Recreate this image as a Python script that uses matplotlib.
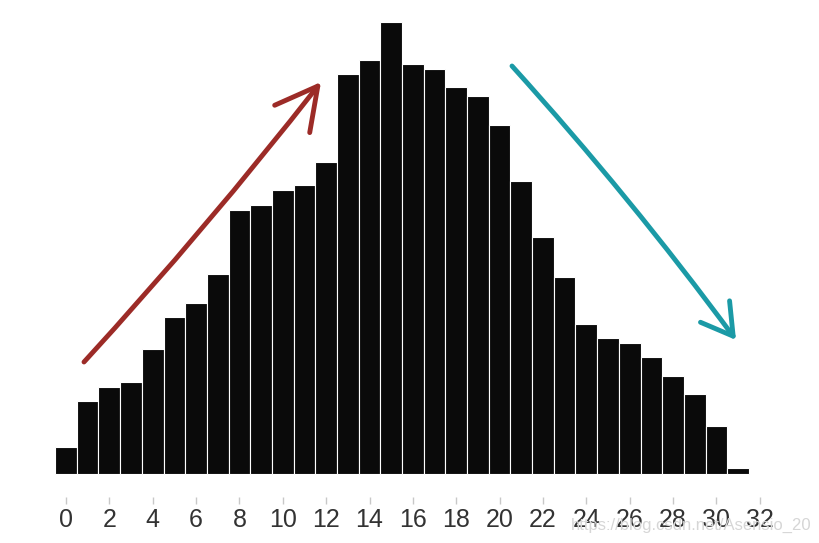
import numpy as np
import matplotlib
matplotlib.use('Agg')
import matplotlib.pyplot as plt

# bar heights (arbitrary units)
positions = np.arange(32)
counts = [27, 73, 87, 92, 125, 157, 171, 200, 264, 269, 284, 289, 312, 400, 414, 452,
          410, 405, 387, 378, 349, 293, 237, 197, 150, 136, 131, 117, 98, 80, 48, 6]
tick_values = np.arange(0, 33, 2)

fig = plt.figure(figsize=(8.2, 5.43), dpi=100)
ax = fig.add_axes([0.054, 0.085, 0.899, 0.89])

ax.bar(positions, counts, width=1.0, color='#0a0a0a', edgecolor='white', linewidth=0.8)

ax.set_xlim(-1, 33)
ax.set_ylim(-23, 460)
ax.set_xticks(tick_values)
ax.set_xticklabels([str(v) for v in tick_values], family='Liberation Sans',
                   fontsize=18, color='#333333')
ax.tick_params(axis='x', length=5, width=1, color='#c8c8c8', pad=3)
ax.set_yticks([])
for s in ax.spines.values():
    s.set_visible(False)

# hand-drawn arrows
ax.annotate('', xy=(321 / 820, 1 - 82 / 543), xytext=(84 / 820, 1 - 362 / 543),
            xycoords='figure fraction', textcoords='figure fraction',
            arrowprops=dict(arrowstyle='->, head_length=1.5, head_width=0.8', color='#9c2b27',
                            lw=3.5, mutation_scale=20, connectionstyle='arc3,rad=0.02',
                            shrinkA=0, shrinkB=0, capstyle='round', joinstyle='round'))
ax.annotate('', xy=(736 / 820, 1 - 340 / 543), xytext=(512 / 820, 1 - 66 / 543),
            xycoords='figure fraction', textcoords='figure fraction',
            arrowprops=dict(arrowstyle='->, head_length=1.1, head_width=0.65', color='#1b9aa6',
                            lw=3.5, mutation_scale=20, connectionstyle='arc3,rad=-0.025',
                            shrinkA=0, shrinkB=0, capstyle='round', joinstyle='round'))

fig.text(0.99, 0.033, 'https://blog.csdn.net/Asensio_20', ha='right', va='center',
         fontsize=12, color='#d6d6d6', family='Liberation Sans')

fig.savefig('out.png', dpi=100, facecolor='white')
